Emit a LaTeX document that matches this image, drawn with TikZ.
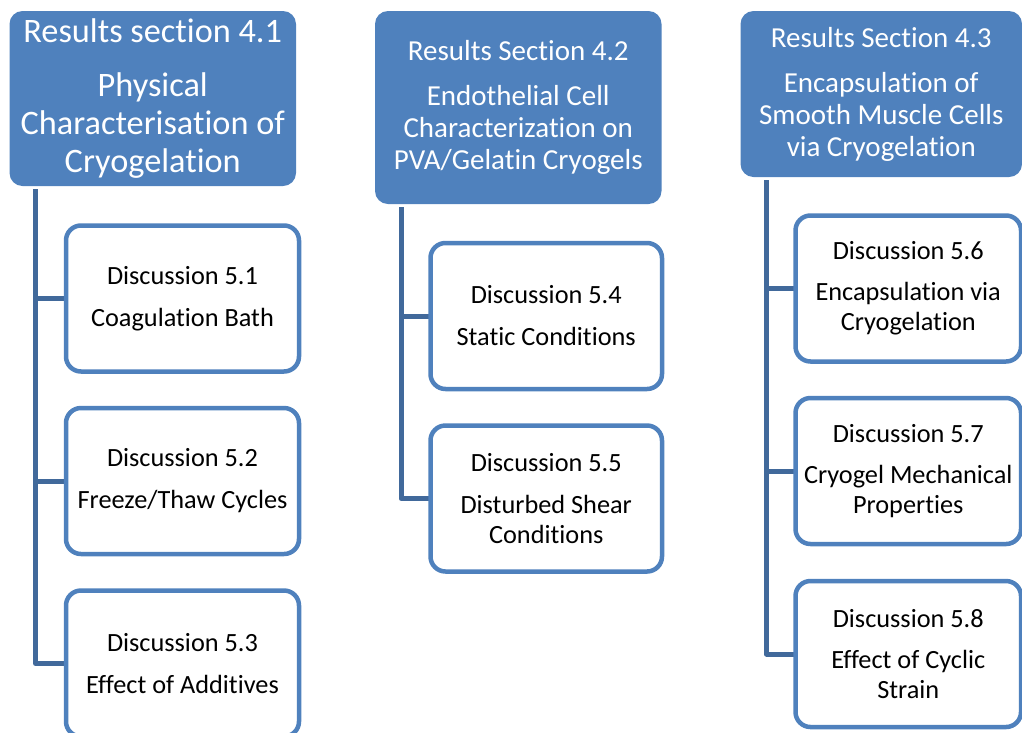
\documentclass[tikz,border=0pt]{standalone}
\usepackage{fontspec}
\setmainfont{Carlito}[Ligatures={NoCommon,NoRare}, Contextuals={NoAlternate}]
\usetikzlibrary{backgrounds}
\definecolor{hdrblue}{HTML}{4F81BD}
\definecolor{boxblue}{HTML}{4F81BD}
\definecolor{linkblue}{HTML}{41699B}
\tikzset{
  hdr/.style={fill=hdrblue, rounded corners=13pt, text=white, align=center,
    inner sep=0pt, outer sep=0pt},
  disc/.style={draw=boxblue, line width=4.5pt, rounded corners=15pt, fill=white,
    align=center, inner sep=0pt, outer sep=0pt, minimum height=146pt,
    font=\fontsize{26.3}{30}\selectfont},
  link/.style={draw=linkblue, line width=5pt, line join=round}
}
\begin{document}
\begin{tikzpicture}[x=1pt,y=-1pt]
\clip (0,0) rectangle (1022,732);

% column 1
\node[hdr, minimum width=286.5pt, minimum height=175pt,
  font=\fontsize{34.3}{38}\selectfont] (h1) at (152.75,98.5)
  {Results section 4.1\\[16pt]Physical\\Characterisation of\\Cryogelation};
\node[disc, minimum width=233pt] (d1) at (182.5,298.5)
  {Discussion 5.1\\[12pt]Coagulation Bath};
\node[disc, minimum width=233pt] (d2) at (182.5,481)
  {Discussion 5.2\\[12pt]Freeze/Thaw Cycles};
\node[disc, minimum width=233pt] (d3) at (182.5,663.5)
  {Discussion 5.3\\[12pt]Effect of Additives};

% column 2
\node[hdr, minimum width=286.5pt, minimum height=193pt,
  font=\fontsize{29}{32}\selectfont] (h2) at (518.25,107.5)
  {Results Section 4.2\\[13pt]Endothelial Cell\\Characterization on\\PVA/Gelatin Cryogels};
\node[disc, minimum width=231.5pt] (d4) at (546.25,316)
  {Discussion 5.4\\[12pt]Static Conditions};
\node[disc, minimum width=231.5pt] (d5) at (546.25,498.5)
  {Discussion 5.5\\[12pt]Disturbed Shear\\Conditions};

% column 3
\node[hdr, minimum width=281.5pt, minimum height=166pt,
  font=\fontsize{29}{32}\selectfont] (h3) at (881.25,94)
  {Results Section 4.3\\[13pt]Encapsulation of\\Smooth Muscle Cells\\via Cryogelation};
\node[disc, minimum width=225.5pt] (d6) at (908.25,288.5)
  {Discussion 5.6\\[11pt]Encapsulation via\\Cryogelation};
\node[disc, minimum width=225.5pt] (d7) at (908.25,471)
  {Discussion 5.7\\[11pt]Cryogel Mechanical\\Properties};
\node[disc, minimum width=225.5pt] (d8) at (908.25,654)
  {Discussion 5.8\\[11pt]Effect of Cyclic\\Strain};

% tree connectors, behind the boxes
\begin{pgfonlayer}{background}
  \foreach \h/\list in {h1/{d1,d2,d3}, h2/{d4,d5}, h3/{d6,d7,d8}}{
    \foreach \d in \list{
      \draw[link] ([xshift=26pt,yshift=-3pt]\h.south west) |- (\d.west);
    }
  }
\end{pgfonlayer}
\end{tikzpicture}
\end{document}
